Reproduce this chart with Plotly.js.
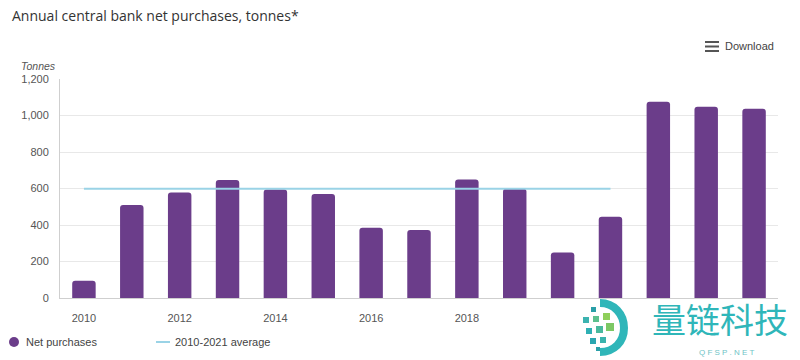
<!DOCTYPE html>
<html>
<head>
<meta charset="utf-8">
<script src="https://cdn.plot.ly/plotly-3.0.1.min.js"></script>
<style>html,body{margin:0;padding:0;background:#fff;}#chart{width:800px;height:360px;}</style>
</head>
<body>
<div id="chart"></div>
<script>
// ---- data ----
var years = ['2010','2011','2012','2013','2014','2015','2016','2017','2018','2019','2020','2021','2022','2023','2024'];
var netPurchases = [95, 510, 578, 647, 595, 570, 385, 372, 650, 598, 250, 445, 1075, 1048, 1037];
var avgYears = ['2010', '2021'];
var avgValues = [598, 598];
var xTickLabels = ['2010', '2012', '2014', '2016', '2018'];
var yTickValues = [0, 200, 400, 600, 800, 1000, 1200];

var purple = '#6b3d8a';
var lightBlue = '#9ad3e6';
var teal = '#2fb6b9';

// plot-area geometry helpers for decorative shapes (paper coordinates)
var L = 60, R = 778, T = 79, B = 298;
function px(x) { return (x - L) / (R - L); }
function py(y) { return (B - y) / (B - T); }

var traces = [
  {
    type: 'bar', x: years, y: netPurchases, name: 'Net purchases',
    marker: {color: purple, cornerradius: 3}, width: 0.49, showlegend: false,
    hoverinfo: 'x+y'
  },
  {
    type: 'scatter', mode: 'lines', x: avgYears, y: avgValues, name: '2010-2021 average',
    line: {color: lightBlue, width: 2}, showlegend: false
  }
];

function sq(x, y, s, c) {
  return {type: 'rect', xref: 'paper', yref: 'paper', x0: px(x), x1: px(x + s), y0: py(y + s), y1: py(y),
          fillcolor: c, line: {width: 0}, layer: 'above'};
}
var arcPath = 'M ' + px(600) + ',' + py(303) +
  ' C ' + px(614) + ',' + py(303) + ' ' + px(624) + ',' + py(314) + ' ' + px(624) + ',' + py(328) +
  ' C ' + px(624) + ',' + py(342) + ' ' + px(614) + ',' + py(352) + ' ' + px(600) + ',' + py(352);

var shapes = [
  // hamburger icon
  {type: 'line', xref: 'paper', yref: 'paper', x0: px(705), x1: px(719), y0: py(42), y1: py(42), line: {color: '#555', width: 2}},
  {type: 'line', xref: 'paper', yref: 'paper', x0: px(705), x1: px(719), y0: py(46.5), y1: py(46.5), line: {color: '#555', width: 2}},
  {type: 'line', xref: 'paper', yref: 'paper', x0: px(705), x1: px(719), y0: py(51), y1: py(51), line: {color: '#555', width: 2}},
  // legend symbols
  {type: 'circle', xref: 'paper', yref: 'paper', x0: px(9), x1: px(19), y0: py(347), y1: py(337), fillcolor: purple, line: {width: 0}},
  {type: 'line', xref: 'paper', yref: 'paper', x0: px(156), x1: px(170), y0: py(342), y1: py(342), line: {color: lightBlue, width: 2}},
  // watermark logo
  {type: 'path', xref: 'paper', yref: 'paper', path: arcPath, line: {color: teal, width: 8}, layer: 'above'},
  sq(591, 307, 5, '#2a9fa8'), sq(583, 317, 6, '#3bb3b0'), sq(593, 316, 6, '#5cc08e'),
  sq(603, 313, 7, '#8fcf5a'), sq(586, 328, 6, '#2fb0b4'), sq(596, 326, 7, '#49b99e'),
  sq(606, 323, 8, '#7cc865'), sq(590, 338, 6, '#2aa6b0'), sq(600, 337, 6, '#39b3ad'),
  sq(596, 347, 4, '#2a9fa8')
];

var annotations = [
  {xref: 'paper', yref: 'paper', x: px(10), y: py(16), xanchor: 'left', yanchor: 'middle', showarrow: false,
   text: 'Annual central bank net purchases, tonnes*', font: {family: 'Open Sans', size: 14, color: '#333'}},
  {xref: 'paper', yref: 'paper', x: px(723), y: py(46), xanchor: 'left', yanchor: 'middle', showarrow: false,
   text: 'Download', font: {family: 'Liberation Sans', size: 11, color: '#444'}},
  {xref: 'paper', yref: 'paper', x: px(19), y: py(66), xanchor: 'left', yanchor: 'middle', showarrow: false,
   text: '<i>Tonnes</i>', font: {family: 'Liberation Sans', size: 10.5, color: '#555'}},
  {xref: 'paper', yref: 'paper', x: px(24), y: py(342), xanchor: 'left', yanchor: 'middle', showarrow: false,
   text: 'Net purchases', font: {family: 'Liberation Sans', size: 11, color: '#444'}},
  {xref: 'paper', yref: 'paper', x: px(173), y: py(342), xanchor: 'left', yanchor: 'middle', showarrow: false,
   text: '2010-2021 average', font: {family: 'Liberation Sans', size: 11, color: '#444'}},
  // watermark text
  {xref: 'paper', yref: 'paper', x: px(720), y: py(318), xanchor: 'center', yanchor: 'middle', showarrow: false,
   text: '量链科技', font: {family: 'Noto Sans CJK SC', size: 34, color: teal}},
  {xref: 'paper', yref: 'paper', x: px(726), y: py(352), xanchor: 'center', yanchor: 'middle', showarrow: false,
   text: 'Q F S P . N E T', font: {family: 'Liberation Sans', size: 8, color: '#6fc4c6'}}
];

var layout = {
  width: 800, height: 360,
  margin: {l: L, r: 800 - R, t: T, b: 360 - B, pad: 0},
  paper_bgcolor: '#fff', plot_bgcolor: '#fff',
  showlegend: false,
  bargap: 0.51,
  xaxis: {
    type: 'category', categoryorder: 'array', categoryarray: years,
    range: [-0.5, 14.5], tickvals: xTickLabels, ticktext: xTickLabels,
    showgrid: false, zeroline: false, showline: true, linecolor: '#cfcfcf', linewidth: 1,
    ticks: '', ticklabelstandoff: 10,
    tickfont: {family: 'Liberation Sans', size: 11, color: '#555'}
  },
  yaxis: {
    range: [0, 1200], tickvals: yTickValues, tickformat: ',',
    showgrid: true, gridcolor: '#e8e8e8', gridwidth: 1,
    zeroline: false, showline: true, linecolor: '#cfcfcf', linewidth: 1,
    ticks: '', ticklabelstandoff: 8,
    tickfont: {family: 'Liberation Sans', size: 11, color: '#555'}
  },
  shapes: shapes,
  annotations: annotations
};

Plotly.newPlot('chart', traces, layout, {displayModeBar: false, staticPlot: true});
</script>
</body>
</html>
